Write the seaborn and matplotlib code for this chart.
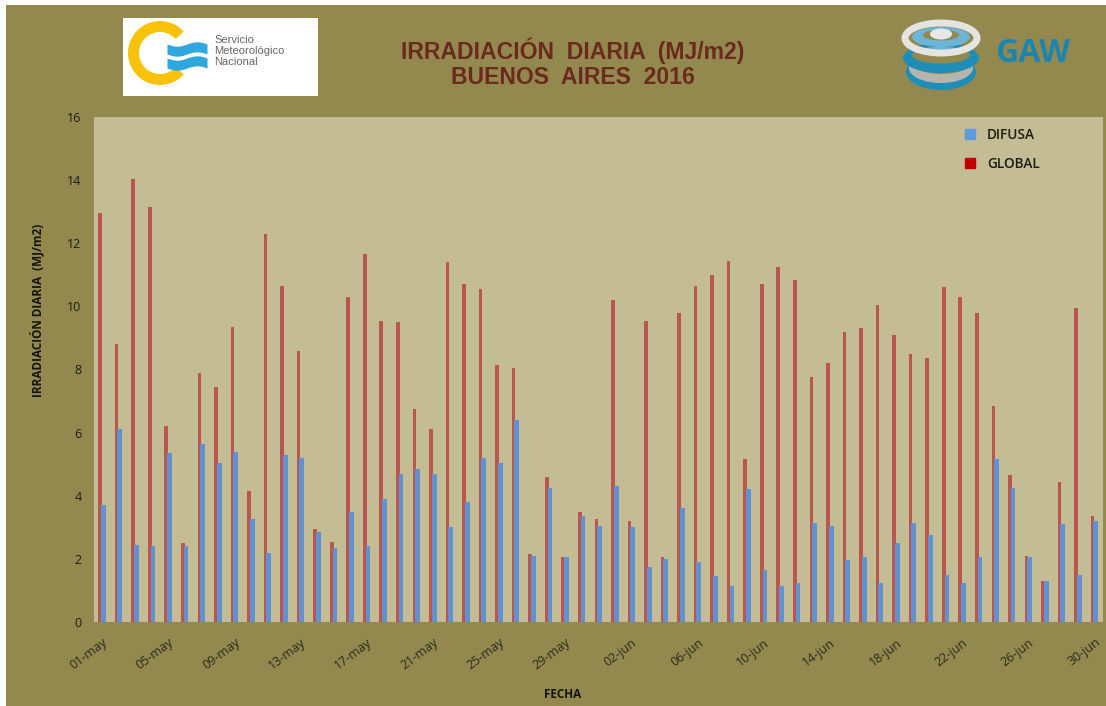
import matplotlib
matplotlib.use("Agg")
import matplotlib.pyplot as plt
import matplotlib.patches as mp
from matplotlib.lines import Line2D
import numpy as np
import pandas as pd
import seaborn as sns

dias = [f"{d:02d}-may" for d in range(1, 32)] + [f"{d:02d}-jun" for d in range(1, 31)]
global_vals = [12.95, 8.8, 14.05, 13.15, 6.2, 2.5, 7.9, 7.45, 9.35, 4.15, 12.3, 10.65, 8.6, 2.95, 2.55,
               10.3, 11.65, 9.55, 9.5, 6.75, 6.1, 11.4, 10.7, 10.55, 8.15, 8.05, 2.15, 4.6, 2.05, 3.5, 3.25,
               10.2, 3.2, 9.55, 2.05, 9.8, 10.65, 11.0, 11.45, 5.15, 10.7, 11.25, 10.85, 7.75, 8.2, 9.2,
               9.3, 10.05, 9.1, 8.5, 8.35, 10.6, 10.3, 9.8, 6.85, 4.65, 2.1, 1.3, 4.45, 9.95, 3.35]
difusa_vals = [3.7, 6.1, 2.45, 2.4, 5.35, 2.4, 5.65, 5.05, 5.4, 3.25, 2.2, 5.3, 5.2, 2.85, 2.35,
               3.5, 2.4, 3.9, 4.7, 4.85, 4.7, 3.0, 3.8, 5.2, 5.05, 6.4, 2.1, 4.25, 2.05, 3.35, 3.05,
               4.3, 3.0, 1.75, 2.0, 3.6, 1.9, 1.45, 1.15, 4.2, 1.65, 1.15, 1.25, 3.15, 3.05, 1.95,
               2.05, 1.25, 2.5, 3.15, 2.75, 1.5, 1.25, 2.05, 5.15, 4.25, 2.05, 1.3, 3.1, 1.5, 3.2]

W, H = 1106, 706
OLIVE = "#93894f"
PLOT = "#c4bc94"
RED = "#b8564f"
BLUE = "#5f92d4"

df = pd.DataFrame({"fecha": dias * 2,
                   "valor": global_vals + difusa_vals,
                   "serie": ["GLOBAL"] * len(dias) + ["DIFUSA"] * len(dias)})

sns.set_theme(style="white")
plt.rcParams["font.family"] = ["Open Sans", "DejaVu Sans"]

fig = plt.figure(figsize=(W / 100, H / 100), dpi=100, facecolor="white")
fig.patches.append(mp.Rectangle((6 / W, 0), 1 - 6 / W, 1 - 5 / H, transform=fig.transFigure,
                                facecolor=OLIVE, edgecolor="none", zorder=-10))
ax = fig.add_axes([94 / W, 1 - 622 / H, 1009 / W, 505 / H], facecolor=PLOT)
sns.barplot(data=df, x="fecha", y="valor", hue="serie", hue_order=["GLOBAL", "DIFUSA"],
            palette={"GLOBAL": RED, "DIFUSA": BLUE}, width=0.5, saturation=1,
            linewidth=0, legend=False, ax=ax, order=dias)
# the blue bars sit slightly over the red ones, and are a little wider
for bar in ax.containers[0]:
    bar.set_x(bar.get_x() + 0.01)
    bar.set_width(0.22)
for bar in ax.containers[1]:
    bar.set_x(bar.get_x() - 0.08)
    bar.set_width(0.29)
ax.set_xlim(-0.5, len(dias) - 0.5)
ax.set_ylim(0, 16)
ax.set_yticks(range(0, 17, 2))
ax.tick_params(axis="y", labelsize=9, colors="#1c1c14", length=0, pad=9)
ax.set_xticks(range(0, len(dias), 4))
ax.set_xticklabels(dias[::4], rotation=37, ha="right", rotation_mode="anchor",
                   fontsize=9, color="#2a2a1c")
ax.tick_params(axis="x", length=0, pad=10)
for s in ax.spines.values():
    s.set_visible(False)
ax.set_xlabel("")
ax.set_ylabel("")
fig.text(37 / W, 1 - 310 / H, "IRRADIACIÓN DIARIA  (MJ/m2)", rotation=90, ha="center", va="center",
         fontsize=8.5, fontweight="bold", color="#15150c", family="Open Sans")
fig.text(563 / W, 1 - 695 / H, "FECHA", ha="center", va="center", fontsize=8.5,
         fontweight="bold", color="#15150c", family="Open Sans")

handles = [Line2D([], [], marker="s", ls="", ms=6.5, color="#5f9ade", label="DIFUSA"),
           Line2D([], [], marker="s", ls="", ms=6.5, color="#c00000", label="GLOBAL")]
leg = ax.legend(handles=handles, loc="upper left", bbox_to_anchor=(850 / 1009, 1.002), frameon=False,
                labelspacing=1.1, handletextpad=0.25, prop={"family": "Open Sans", "size": 9.8, "weight": 600})
for t in leg.get_texts():
    t.set_color("#1c1c14")

for y, s in [(51, "IRRADIACIÓN  DIARIA  (MJ/m2)"), (78, "BUENOS  AIRES  2016")]:
    fig.text(573 / W, 1 - y / H, s, ha="center", va="center", fontsize=16.6, fontweight="bold",
             color="#6b2a1e", family="Liberation Sans")

# Logos, drawn on a pixel-scaled overlay
ov = fig.add_axes([0, 0, 1, 1], facecolor="none")
ov.set_xlim(0, W)
ov.set_ylim(H, 0)
ov.axis("off")
ov.add_patch(mp.Rectangle((123, 18), 195, 78, fc="white", ec="none"))
ov.add_patch(mp.Wedge((160, 53), 32, 42, 318, width=11, fc="#f7c209", ec="none"))
for y0 in (44, 58):
    xs = np.linspace(167, 207, 30)
    ys = y0 + 2.2 * np.sin((xs - 167) / 40 * 2 * np.pi)
    ov.fill_between(xs, ys, ys + 10, color="#2ea8dc", lw=0)
for y, s in [(40, "Servicio"), (51, "Meteorológico"), (62, "Nacional")]:
    ov.text(214, y, s, fontsize=8, color="#666666", va="center", family="Liberation Sans")

# GAW globe: stacked rings
ov.add_patch(mp.Ellipse((941, 72), 70, 36, fc="#1e8db8", ec="none"))
ov.add_patch(mp.Ellipse((941, 68), 64, 30, fc="#b5b5ad", ec="none"))
ov.add_patch(mp.Ellipse((941, 63), 58, 22, fc=OLIVE, ec="none"))
ov.add_patch(mp.Ellipse((941, 58), 76, 30, fc="#1e8db8", ec="none"))
ov.add_patch(mp.Ellipse((941, 55), 58, 17, fc=OLIVE, ec="none"))
ov.add_patch(mp.Ellipse((941, 51), 46, 8, fc="#6db5d8", ec="none"))
ov.add_patch(mp.Ellipse((941, 38), 72, 30, fc="none", ec="#e4e4e0", lw=5))
ov.add_patch(mp.Ellipse((941, 37), 58, 20, fc="#6db5d8", ec="none"))
ov.add_patch(mp.Ellipse((941, 35), 36, 11, fc=OLIVE, ec="none"))
ov.add_patch(mp.Ellipse((941, 34), 22, 11, fc="#e8e8e8", ec="none"))
ov.text(1033, 54, "GAW", fontsize=23, fontweight="bold", color="#1a86b0", ha="center", va="center",
        family="Open Sans")

fig.savefig("out.png", dpi=100, facecolor="white")
